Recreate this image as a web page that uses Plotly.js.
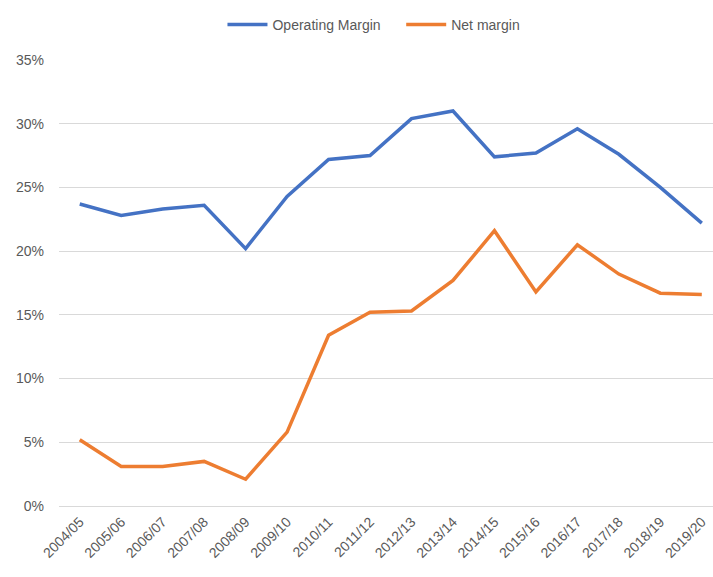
<!DOCTYPE html>
<html>
<head>
<meta charset="utf-8">
<script src="https://cdn.plot.ly/plotly-3.0.1.min.js"></script>
<style>html,body{margin:0;padding:0;background:#fff;}#chart{width:713px;height:577px;}</style>
</head>
<body>
<div id="chart"></div>
<script>
const years = ["2004/05","2005/06","2006/07","2007/08","2008/09","2009/10","2010/11","2011/12","2012/13","2013/14","2014/15","2015/16","2016/17","2017/18","2018/19","2019/20"];
const operatingMargin = [0.237,0.228,0.233,0.236,0.202,0.243,0.272,0.275,0.304,0.310,0.274,0.277,0.296,0.276,0.250,0.222];
const netMargin = [0.052,0.031,0.031,0.035,0.021,0.058,0.134,0.152,0.153,0.177,0.216,0.168,0.205,0.182,0.167,0.166];
const yTicks = [0,0.05,0.10,0.15,0.20,0.25,0.30,0.35];
const seriesNames = ["Operating Margin", "Net margin"];

const font = {family: "Liberation Sans, Arial, sans-serif", size: 14, color: "#595959"};
const pad = "\u00A0\u00A0\u00A0\u00A0";

const traces = [
  {x: years, y: operatingMargin, name: seriesNames[0] + pad, type: "scatter", mode: "lines",
   line: {color: "#4472C4", width: 3.5}},
  {x: years, y: netMargin, name: seriesNames[1], type: "scatter", mode: "lines",
   line: {color: "#ED7D31", width: 3.5}}
];

const layout = {
  width: 713, height: 577,
  margin: {l: 58.5, r: 0, t: 60, b: 71.3, pad: 0},
  paper_bgcolor: "#fff", plot_bgcolor: "#fff",
  font: font,
  showlegend: true,
  hovermode: false,
  legend: {orientation: "h", xref: "container", yref: "container", x: 0.5245, xanchor: "center",
           y: 1 - 9/577, yanchor: "top", font: font, itemwidth: 40, tracegroupgap: 0},
  xaxis: {type: "category", range: [-0.5, 15.27], showgrid: false, zeroline: false, showline: false,
          ticks: "", tickangle: -45, ticklabelstandoff: 4, tickfont: {family: font.family, size: 14, color: "#595959"}, automargin: false},
  yaxis: {range: [0, 0.35], tickvals: yTicks, tickformat: ".0%", showgrid: true, gridcolor: "#D9D9D9", gridwidth: 1,
          zeroline: true, zerolinecolor: "#D9D9D9", zerolinewidth: 1, showline: false, ticks: "",
          ticklabelstandoff: 14, tickfont: font, automargin: false}
};

Plotly.newPlot("chart", traces, layout, {staticPlot: true, displayModeBar: false});
</script>
</body>
</html>
